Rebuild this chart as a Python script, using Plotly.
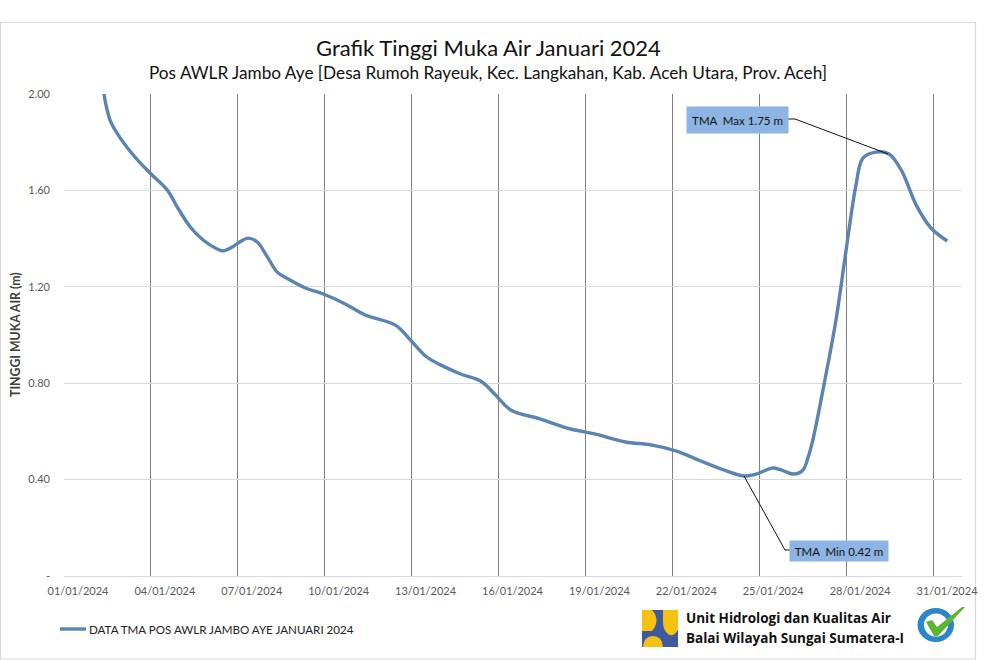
import pandas as pd
import plotly.graph_objects as go

W, H = 984, 660
L, R, T, B = 64, 962, 94, 576

days = [1.00,1.38,1.59,1.83,2.39,2.97,3.56,3.91,4.36,4.80,5.29,5.50,5.81,6.01,6.36,6.67,7.02,7.36,7.74,8.33,
        8.95,9.71,10.40,11.44,11.96,12.48,13.00,13.69,14.38,14.90,15.42,16.45,17.49,18.35,19.39,20.26,21.12,21.98,
        22.68,23.47,23.89,24.47,24.75,25.20,25.51,25.68,25.85,26.30,26.65,27.00,27.34,27.58,28.03,28.48,28.90,29.42,29.93,30.49]
tma = [2.50,2.00,1.892,1.838,1.747,1.672,1.602,1.531,1.448,1.394,1.357,1.349,1.365,1.382,1.402,1.386,1.324,1.261,1.232,1.195,
       1.17,1.129,1.083,1.041,0.979,0.913,0.876,0.838,0.809,0.751,0.689,0.651,0.61,0.589,0.556,0.544,0.519,0.477,
       0.444,0.415,0.423,0.448,0.44,0.423,0.44,0.49,0.564,0.834,1.062,1.353,1.622,1.734,1.759,1.751,1.685,1.539,1.444,1.39]
y_ticks = [0, 0.4, 0.8, 1.2, 1.6, 2.0]
y_labels = ["-", "0.40", "0.80", "1.20", "1.60", "2.00"]
tick_dates = ["2024-01-%02d" % d for d in range(1, 32, 3)]
tick_labels = ["%02d/01/2024" % d for d in range(1, 32, 3)]
series_name = "DATA TMA POS AWLR JAMBO AYE JANUARI 2024"

start = pd.Timestamp("2024-01-01")
x = [(start + pd.Timedelta(days=d)).isoformat() for d in days]
imax = days.index(28.48)
imin = days.index(23.47)

FONT = "Lato, 'Open Sans', sans-serif"
px = lambda v: (v - L) / (R - L)
py = lambda v: (B - v) / (B - T)


def P(a, b):
    return f"{px(a):.5f},{py(b):.5f}"


def fill(path, color):
    return dict(type="path", xref="paper", yref="paper", path=path, fillcolor=color, line=dict(width=0))


def stroke(path, color):
    return dict(type="path", xref="paper", yref="paper", path=path, line=dict(color=color, width=1))


YEL = "#f5c211"
fig = go.Figure()
fig.add_trace(go.Scatter(x=x, y=tma, mode="lines", name=series_name, showlegend=False,
                         line=dict(color="#5b84b1", width=3.4, shape="spline", smoothing=1.0)))

shapes = [
    dict(type="rect", xref="paper", yref="paper", x0=px(0.5), x1=px(975.5), y0=py(22.5), y1=py(659),
         line=dict(color="#d9d9d9", width=1.2), fillcolor="rgba(0,0,0,0)", layer="below"),
    dict(type="line", xref="paper", yref="paper", x0=px(60), x1=px(86), y0=py(629), y1=py(629),
         line=dict(color="#5b84b1", width=3.4)),
    stroke(f"M {P(788,119)} L {P(795,119)} L {P(888,154)}", "#111111"),
    stroke(f"M {P(744,476)} L {P(785,550)} L {P(790,550)}", "#111111"),
    dict(type="rect", xref="paper", yref="paper", x0=px(642), x1=px(678), y0=py(610), y1=py(647),
         fillcolor="#3f5aa0", line=dict(width=0)),
    fill(f"M {P(642,610)} L {P(652,610)} Q {P(661,620)} {P(652,631)} L {P(642,631)} Z", YEL),
    fill(f"M {P(663,610)} L {P(678,610)} L {P(678,630)} Q {P(673,638)} {P(668,634)} Q {P(663,630)} {P(663,622)} Z", YEL),
    fill(f"M {P(643,647)} Q {P(644,636)} {P(653,636)} Q {P(662,636)} {P(663,647)} Z", YEL),
    dict(type="circle", xref="paper", yref="paper", x0=px(917.5), x1=px(954), y0=py(608), y1=py(642),
         fillcolor="#2a86c8", line=dict(width=0)),
    dict(type="circle", xref="paper", yref="paper", x0=px(924), x1=px(948), y0=py(613.5), y1=py(636.5),
         fillcolor="#ffffff", line=dict(width=0)),
    fill("M " + " L ".join(P(a, b) for a, b in [(926, 622), (932, 620), (937, 627), (962, 607), (965, 607), (938, 636), (934, 636)]) + " Z", "#5cb531"),
]

annotations = [
    dict(text="Grafik Tinggi Muka Air Januari 2024", xref="paper", yref="paper", x=px(488), y=py(48), showarrow=False,
         font=dict(size=22, color="#111111", family=FONT), xanchor="center", yanchor="middle"),
    dict(text="Pos AWLR Jambo Aye [Desa Rumoh Rayeuk, Kec. Langkahan, Kab. Aceh Utara, Prov. Aceh]", xref="paper",
         yref="paper", x=px(488), y=py(73), showarrow=False, font=dict(size=17.2, color="#111111", family=FONT),
         xanchor="center", yanchor="middle"),
    dict(text="TINGGI MUKA AIR (m)", xref="paper", yref="paper", x=px(15), y=py(335), textangle=-90, showarrow=False,
         font=dict(size=12.3, color="#404040", family=FONT, weight="bold"), xanchor="center", yanchor="middle"),
    dict(text=series_name, xref="paper", yref="paper", x=px(87), y=py(629), showarrow=False, xanchor="left",
         yanchor="middle", font=dict(size=11.6, color="#222222", family=FONT)),
    dict(text=f"TMA  Max {tma[imax]:.2f} m", xref="paper", yref="paper", x=px(737.5), y=py(120), showarrow=False,
         bgcolor="#8eb4e3", width=99, height=24, font=dict(size=11.5, color="#111111", family=FONT), xanchor="center",
         yanchor="middle"),
    dict(text=f"TMA  Min {tma[imin] + 0.005:.2f} m", xref="paper", yref="paper", x=px(839), y=py(551), showarrow=False,
         bgcolor="#8eb4e3", width=96, height=18, font=dict(size=11.5, color="#111111", family=FONT), xanchor="center",
         yanchor="middle"),
    dict(text="Unit Hidrologi dan Kualitas Air", xref="paper", yref="paper", x=px(684), y=py(618), showarrow=False,
         xanchor="left", yanchor="middle", font=dict(size=13.5, color="#111111", family="'Open Sans', sans-serif", weight="bold")),
    dict(text="Balai Wilayah Sungai Sumatera-I", xref="paper", yref="paper", x=px(684), y=py(638), showarrow=False,
         xanchor="left", yanchor="middle", font=dict(size=13.5, color="#111111", family="'Open Sans', sans-serif", weight="bold")),
]

fig.update_layout(
    width=W, height=H, autosize=False, paper_bgcolor="white", plot_bgcolor="white", showlegend=False,
    margin=dict(l=L, r=W - R, t=T, b=H - B, autoexpand=False),
    font=dict(family=FONT, size=11, color="#595959"),
    shapes=shapes, annotations=annotations,
    xaxis=dict(type="date", range=["2024-01-01", "2024-02-01"], tickmode="array", tickvals=tick_dates,
               ticktext=tick_labels, ticklabelshift=14, ticklabelstandoff=5, ticks="", showgrid=True, gridcolor="#808080",
               gridwidth=1, showline=True, linecolor="#d9d9d9", zeroline=False, tickfont=dict(size=11, color="#595959")),
    yaxis=dict(range=[0, 2], tickmode="array", tickvals=y_ticks, ticktext=y_labels, ticks="", showgrid=True,
               ticklabelstandoff=13, gridcolor="#d9d9d9", gridwidth=1, showline=False, zeroline=False,
               tickfont=dict(size=11, color="#595959")),
)
fig.write_html("out.html", config={"displayModeBar": False}, post_script="document.body.style.margin='0';")
